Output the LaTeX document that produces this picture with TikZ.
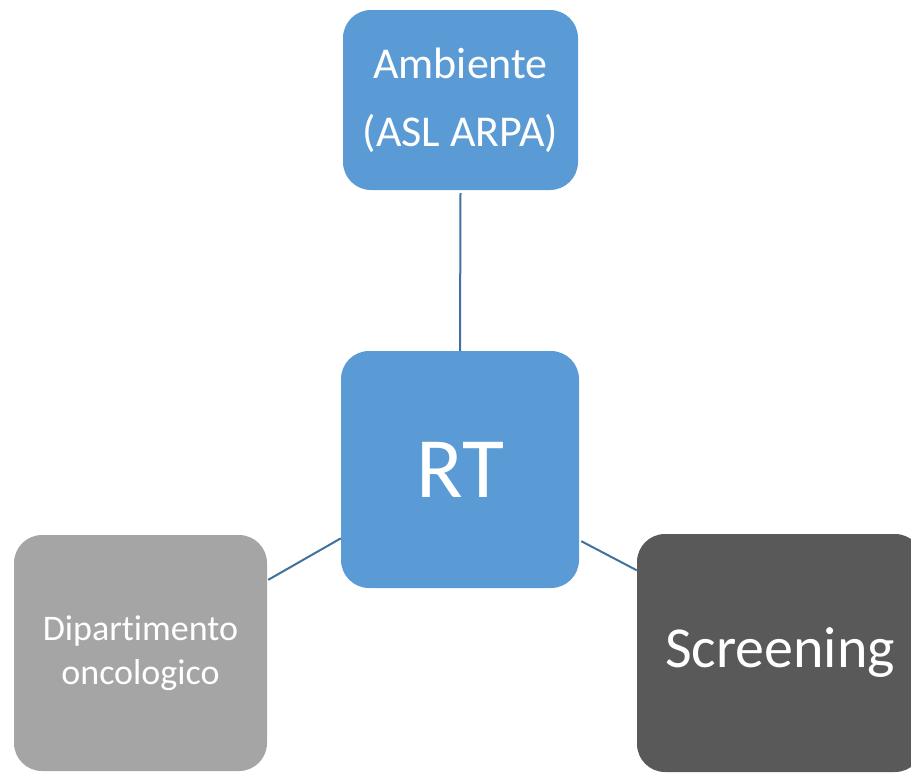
\documentclass[tikz,border=0pt]{standalone}
\usepackage{fontspec}
\setmainfont{Carlito}[Ligatures=NoCommon]
\definecolor{boxblue}{HTML}{5B9BD5}
\definecolor{boxlight}{HTML}{A5A5A5}
\definecolor{boxdark}{HTML}{595959}
\definecolor{linecol}{HTML}{41719C}
\begin{document}
\begin{tikzpicture}[x=1pt,y=1pt,
  box/.style={rounded corners=28pt, inner sep=0pt, text=white, align=center},
  link/.style={draw=linecol, line width=2pt}]
\useasboundingbox (0,0) rectangle (911,-772);
\clip (0,0) rectangle (911,-772);
\node[box, fill=boxblue, minimum width=235pt, minimum height=180pt,
  font=\fontsize{44}{67.7}\selectfont] (amb) at (460.5,-100) {Ambiente\\(ASL ARPA)};
\node[box, fill=boxblue, minimum width=238pt, minimum height=237pt,
  font=\fontsize{86}{90}\selectfont] (rt) at (460,-469.5) {RT};
\node[box, fill=boxlight, minimum width=253pt, minimum height=236pt,
  font=\fontsize{36}{44}\selectfont] (dip) at (140.5,-653) {Dipartimento\\oncologico};
\node[box, fill=boxdark, minimum width=286pt, minimum height=238pt,
  font=\fontsize{58}{64}\selectfont] (scr) at (780,-653) {Screening};
\draw[link] ([yshift=-3pt]amb.south) -- (rt.north);
\draw[link] (rt.210.5) -- ([xshift=1pt]dip.30.7);
\draw[link] ([xshift=2pt]rt.329.5) -- (scr.150.5);
\end{tikzpicture}
\end{document}
